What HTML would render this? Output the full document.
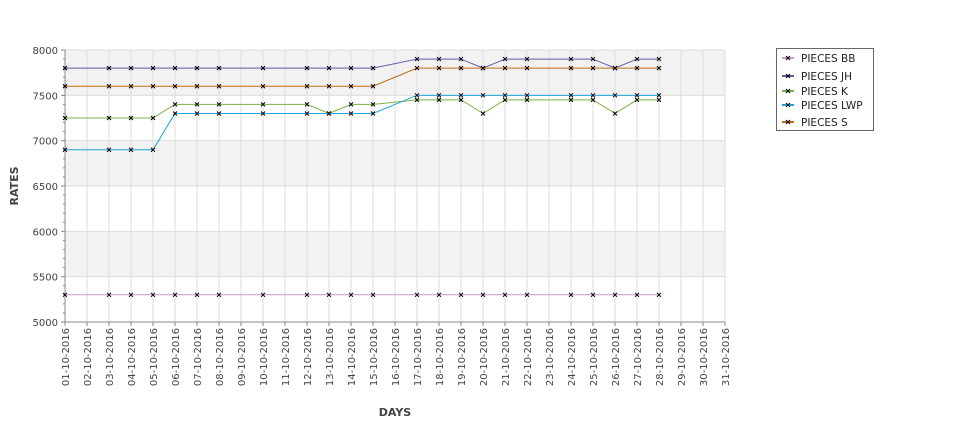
<!DOCTYPE html>
<html><head><meta charset="utf-8"><style>
body{margin:0;background:#fff;font-family:"DejaVu Sans","Liberation Sans",sans-serif;}
svg text{font-family:"DejaVu Sans","Liberation Sans",sans-serif;}
</style></head><body>
<svg id="chart" width="975" height="429" xmlns="http://www.w3.org/2000/svg">
<g id="bands"></g><g id="grid"></g><g id="axes"></g><g id="series"></g>
<text x="395" y="416" font-size="11" font-weight="bold" text-anchor="middle" fill="#444">DAYS</text>
<text transform="translate(18,186) rotate(-90)" font-size="11" font-weight="bold" text-anchor="middle" fill="#444">RATES</text>
<g id="legend"></g>
</svg>
<script>
const days = [];
for (let d = 1; d <= 31; d++) days.push((d<10?'0':'')+d+'-10-2016');
const yTicks = [5000,5500,6000,6500,7000,7500,8000];
const seriesNames = ['PIECES BB','PIECES JH','PIECES K','PIECES LWP','PIECES S'];
const seriesColors = ['#c99bc9','#5a5f9e','#7cb342','#1ba5dc','#c36a12'];
const dateIdx = [1,3,4,5,6,7,8,10,12,13,14,15,17,18,19,20,21,22,24,25,26,27,28];
const bbValues = [5300,5300,5300,5300,5300,5300,5300,5300,5300,5300,5300,5300,5300,5300,5300,5300,5300,5300,5300,5300,5300,5300,5300];
const jhValues = [7800,7800,7800,7800,7800,7800,7800,7800,7800,7800,7800,7800,7900,7900,7900,7800,7900,7900,7900,7900,7800,7900,7900];
const kValues  = [7250,7250,7250,7250,7400,7400,7400,7400,7400,7300,7400,7400,7450,7450,7450,7300,7450,7450,7450,7450,7300,7450,7450];
const lwpValues= [6900,6900,6900,6900,7300,7300,7300,7300,7300,7300,7300,7300,7500,7500,7500,7500,7500,7500,7500,7500,7500,7500,7500];
const sValues  = [7600,7600,7600,7600,7600,7600,7600,7600,7600,7600,7600,7600,7800,7800,7800,7800,7800,7800,7800,7800,7800,7800,7800];
const seriesValues = [bbValues,jhValues,kValues,lwpValues,sValues];

const NS='http://www.w3.org/2000/svg';
const X0=65,X1=725,Y0=322,Y1=50;
const xs=i=>X0+(i-1)*(X1-X0)/30;
const ys=v=>Y0-(v-5000)*(Y0-Y1)/3000;
function mk(tag,attrs,parent){const e=document.createElementNS(NS,tag);for(const k in attrs)e.setAttribute(k,attrs[k]);parent.appendChild(e);return e;}
const bands=document.getElementById('bands'),grid=document.getElementById('grid'),axes=document.getElementById('axes'),ser=document.getElementById('series'),leg=document.getElementById('legend');
for(let i=0;i<yTicks.length-1;i++){
  if(i%2===1){const r=mk('rect',{x:X0,y:ys(yTicks[i+1]),width:X1-X0,height:ys(yTicks[i])-ys(yTicks[i+1]),fill:'#f2f2f2'},bands);
  
  }
}
days.forEach((d,i)=>{
  const x=xs(i+1);
  const l=mk('line',{x1:x,x2:x,y1:Y1,y2:Y0,stroke:'#dddddd','stroke-width':1},grid);
  
  
  mk('line',{x1:x,x2:x,y1:Y0,y2:Y0+4,stroke:'#888'},axes);
  const t=mk('text',{transform:`translate(${x+4},${Y0+6}) rotate(-90)`,'font-size':10,'text-anchor':'end',fill:'#444'},axes);
  t.textContent=d;
  
  
});
yTicks.forEach(v=>{
  const y=ys(v);
  const l=mk('line',{x1:X0,x2:X1,y1:y,y2:y,stroke:'#dddddd'},grid);
  
  
  mk('line',{x1:X0-4,x2:X0,y1:y,y2:y,stroke:'#888'},axes);
  const t=mk('text',{x:X0-7,y:y+4,'font-size':10,'text-anchor':'end',fill:'#444'},axes);
  t.textContent=v;
  
  
});
for(let v=5000;v<=8000;v+=100){const y=ys(v);mk('line',{x1:X0-2,x2:X0,y1:y,y2:y,stroke:'#888'},axes);}
mk('line',{x1:X0,x2:X0,y1:Y1,y2:Y0,stroke:'#888'},axes);
mk('line',{x1:X0,x2:X1,y1:Y0,y2:Y0,stroke:'#888'},axes);
seriesValues.forEach((vals,s)=>{
  const g=mk('g',{},ser);
  
  
  const pts=vals.map((v,i)=>xs(dateIdx[i])+','+ys(v)).join(' ');
  mk('polyline',{points:pts,fill:'none',stroke:seriesColors[s],'stroke-width':1},g);
  vals.forEach((v,i)=>{
    const x=xs(dateIdx[i]),y=ys(v);
    const p=mk('path',{d:`M${x-2},${y-2}L${x+2},${y+2}M${x-2},${y+2}L${x+2},${y-2}`,stroke:'#000','stroke-width':1},g);
    
    
  });
});
mk('rect',{x:776.5,y:48.5,width:97,height:82,fill:'#fff',stroke:'#666'},leg);
const ly=[58,76,91,105,122];
seriesNames.forEach((n,i)=>{
  const g=mk('g',{},leg);
  
  
  const y=ly[i];
  mk('line',{x1:782,x2:794,y1:y,y2:y,stroke:seriesColors[i],'stroke-width':2},g);
  mk('path',{d:`M786,${y-2}L790,${y+2}M786,${y+2}L790,${y-2}`,stroke:'#000'},g);
  const t=mk('text',{x:801,y:y+4,'font-size':10.5,fill:'#222'},g);
  t.textContent=n;
});
</script>
</body></html>
